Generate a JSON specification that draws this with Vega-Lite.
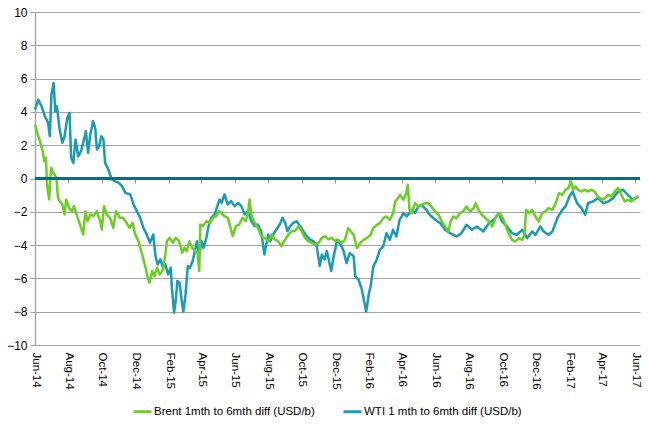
{
  "$schema": "https://vega.github.io/schema/vega-lite/v6.json",
  "width": 605,
  "height": 333,
  "autosize": {"type": "none"},
  "padding": {"left": 35, "top": 12, "right": 9, "bottom": 79},
  "background": "white",
  "config": {
    "view": {"stroke": null},
    "font": "Liberation Sans",
    "axisY": {
      "title": null, "values": [-10, -8, -6, -4, -2, 0, 2, 4, 6, 8, 10], "labelOverlap": false,
      "grid": true, "gridColor": "#a6a6a6", "gridWidth": 1,
      "domain": true, "domainColor": "#a6a6a6", "domainWidth": 1.5,
      "ticks": true, "tickColor": "#a6a6a6", "tickSize": 5,
      "labelPadding": 3, "labelFontSize": 12, "labelColor": "#000", "labelFont": "Liberation Sans"
    }
  },
  "data": {"values": [
    {"d":"2014-06-01","s":"W","v":4.14},{"d":"2014-06-07","s":"W","v":4.74},{"d":"2014-06-13","s":"W","v":4.34},{"d":"2014-06-19","s":"W","v":3.74},{"d":"2014-06-25","s":"W","v":3.34},{"d":"2014-06-28","s":"W","v":2.54},{"d":"2014-07-01","s":"W","v":5.04},{"d":"2014-07-05","s":"W","v":5.74},{"d":"2014-07-08","s":"W","v":4.04},{"d":"2014-07-11","s":"W","v":4.34},{"d":"2014-07-16","s":"W","v":2.94},{"d":"2014-07-21","s":"W","v":2.14},{"d":"2014-07-25","s":"W","v":2.54},{"d":"2014-07-30","s":"W","v":3.64},{"d":"2014-08-03","s":"W","v":3.94},{"d":"2014-08-06","s":"W","v":1.24},{"d":"2014-08-10","s":"W","v":0.94},{"d":"2014-08-14","s":"W","v":2.34},{"d":"2014-08-19","s":"W","v":1.34},{"d":"2014-08-24","s":"W","v":1.64},{"d":"2014-08-28","s":"W","v":2.14},{"d":"2014-09-02","s":"W","v":2.84},{"d":"2014-09-06","s":"W","v":1.54},{"d":"2014-09-10","s":"W","v":2.64},{"d":"2014-09-15","s":"W","v":3.44},{"d":"2014-09-19","s":"W","v":3.04},{"d":"2014-09-22","s":"W","v":1.74},{"d":"2014-09-26","s":"W","v":1.94},{"d":"2014-09-30","s":"W","v":2.54},{"d":"2014-10-04","s":"W","v":2.34},{"d":"2014-10-07","s":"W","v":0.94},{"d":"2014-10-13","s":"W","v":0.54},{"d":"2014-10-19","s":"W","v":-0.06},{"d":"2014-10-25","s":"W","v":-0.16},{"d":"2014-11-01","s":"W","v":-0.26},{"d":"2014-11-07","s":"W","v":-0.46},{"d":"2014-11-13","s":"W","v":-0.86},{"d":"2014-11-22","s":"W","v":-0.96},{"d":"2014-11-28","s":"W","v":-1.56},{"d":"2014-12-04","s":"W","v":-1.96},{"d":"2014-12-10","s":"W","v":-2.36},{"d":"2014-12-16","s":"W","v":-2.96},{"d":"2014-12-22","s":"W","v":-3.36},{"d":"2014-12-28","s":"W","v":-3.86},{"d":"2015-01-03","s":"W","v":-3.36},{"d":"2015-01-07","s":"W","v":-4.66},{"d":"2015-01-11","s":"W","v":-5.16},{"d":"2015-01-16","s":"W","v":-4.86},{"d":"2015-01-21","s":"W","v":-5.36},{"d":"2015-01-25","s":"W","v":-5.16},{"d":"2015-01-30","s":"W","v":-5.76},{"d":"2015-02-04","s":"W","v":-5.36},{"d":"2015-02-06","s":"W","v":-6.56},{"d":"2015-02-10","s":"W","v":-8.06},{"d":"2015-02-13","s":"W","v":-7.36},{"d":"2015-02-16","s":"W","v":-6.16},{"d":"2015-02-20","s":"W","v":-6.26},{"d":"2015-02-24","s":"W","v":-7.36},{"d":"2015-02-27","s":"W","v":-8.0},{"d":"2015-03-03","s":"W","v":-6.96},{"d":"2015-03-07","s":"W","v":-5.26},{"d":"2015-03-11","s":"W","v":-5.36},{"d":"2015-03-16","s":"W","v":-4.96},{"d":"2015-03-20","s":"W","v":-4.36},{"d":"2015-03-24","s":"W","v":-3.76},{"d":"2015-03-28","s":"W","v":-4.66},{"d":"2015-04-01","s":"W","v":-3.76},{"d":"2015-04-05","s":"W","v":-4.16},{"d":"2015-04-10","s":"W","v":-3.56},{"d":"2015-04-14","s":"W","v":-2.86},{"d":"2015-04-19","s":"W","v":-2.36},{"d":"2015-04-25","s":"W","v":-2.16},{"d":"2015-04-30","s":"W","v":-1.66},{"d":"2015-05-04","s":"W","v":-1.26},{"d":"2015-05-08","s":"W","v":-1.46},{"d":"2015-05-13","s":"W","v":-0.96},{"d":"2015-05-19","s":"W","v":-1.56},{"d":"2015-05-25","s":"W","v":-1.36},{"d":"2015-06-01","s":"W","v":-1.66},{"d":"2015-06-07","s":"W","v":-1.46},{"d":"2015-06-13","s":"W","v":-1.66},{"d":"2015-06-19","s":"W","v":-2.16},{"d":"2015-06-25","s":"W","v":-1.96},{"d":"2015-07-01","s":"W","v":-2.56},{"d":"2015-07-07","s":"W","v":-2.86},{"d":"2015-07-13","s":"W","v":-2.76},{"d":"2015-07-19","s":"W","v":-3.16},{"d":"2015-07-25","s":"W","v":-4.56},{"d":"2015-08-01","s":"W","v":-3.36},{"d":"2015-08-05","s":"W","v":-3.76},{"d":"2015-08-10","s":"W","v":-3.36},{"d":"2015-08-16","s":"W","v":-3.06},{"d":"2015-08-22","s":"W","v":-2.76},{"d":"2015-08-27","s":"W","v":-2.36},{"d":"2015-09-01","s":"W","v":-2.66},{"d":"2015-09-05","s":"W","v":-3.16},{"d":"2015-09-10","s":"W","v":-2.86},{"d":"2015-09-16","s":"W","v":-2.66},{"d":"2015-09-22","s":"W","v":-2.56},{"d":"2015-09-28","s":"W","v":-2.86},{"d":"2015-10-04","s":"W","v":-3.16},{"d":"2015-10-10","s":"W","v":-3.46},{"d":"2015-10-16","s":"W","v":-3.66},{"d":"2015-10-22","s":"W","v":-3.76},{"d":"2015-10-28","s":"W","v":-3.96},{"d":"2015-11-03","s":"W","v":-5.26},{"d":"2015-11-07","s":"W","v":-4.56},{"d":"2015-11-12","s":"W","v":-4.86},{"d":"2015-11-16","s":"W","v":-4.36},{"d":"2015-11-20","s":"W","v":-4.96},{"d":"2015-11-24","s":"W","v":-5.56},{"d":"2015-11-28","s":"W","v":-4.76},{"d":"2015-12-02","s":"W","v":-4.16},{"d":"2015-12-04","s":"W","v":-3.68},{"d":"2015-12-10","s":"W","v":-3.88},{"d":"2015-12-16","s":"W","v":-4.28},{"d":"2015-12-22","s":"W","v":-5.08},{"d":"2015-12-28","s":"W","v":-4.48},{"d":"2016-01-04","s":"W","v":-4.68},{"d":"2016-01-07","s":"W","v":-5.88},{"d":"2016-01-13","s":"W","v":-6.08},{"d":"2016-01-19","s":"W","v":-6.68},{"d":"2016-01-25","s":"W","v":-7.68},{"d":"2016-01-27","s":"W","v":-7.98},{"d":"2016-02-01","s":"W","v":-6.88},{"d":"2016-02-04","s":"W","v":-6.48},{"d":"2016-02-09","s":"W","v":-5.28},{"d":"2016-02-15","s":"W","v":-4.88},{"d":"2016-02-21","s":"W","v":-4.28},{"d":"2016-02-27","s":"W","v":-4.08},{"d":"2016-03-04","s":"W","v":-3.28},{"d":"2016-03-10","s":"W","v":-3.68},{"d":"2016-03-16","s":"W","v":-3.08},{"d":"2016-03-22","s":"W","v":-3.48},{"d":"2016-03-28","s":"W","v":-2.48},{"d":"2016-04-04","s":"W","v":-2.08},{"d":"2016-04-10","s":"W","v":-2.28},{"d":"2016-04-19","s":"W","v":-1.88},{"d":"2016-04-25","s":"W","v":-2.08},{"d":"2016-05-01","s":"W","v":-1.68},{"d":"2016-05-07","s":"W","v":-1.58},{"d":"2016-05-16","s":"W","v":-1.88},{"d":"2016-05-22","s":"W","v":-2.18},{"d":"2016-06-01","s":"W","v":-2.48},{"d":"2016-06-10","s":"W","v":-2.68},{"d":"2016-06-19","s":"W","v":-3.08},{"d":"2016-06-28","s":"W","v":-3.28},{"d":"2016-07-10","s":"W","v":-3.48},{"d":"2016-07-19","s":"W","v":-3.28},{"d":"2016-07-28","s":"W","v":-2.78},{"d":"2016-08-07","s":"W","v":-3.08},{"d":"2016-08-16","s":"W","v":-2.88},{"d":"2016-08-28","s":"W","v":-3.18},{"d":"2016-09-07","s":"W","v":-2.68},{"d":"2016-09-16","s":"W","v":-2.48},{"d":"2016-09-25","s":"W","v":-2.08},{"d":"2016-10-01","s":"W","v":-2.58},{"d":"2016-10-10","s":"W","v":-2.88},{"d":"2016-10-19","s":"W","v":-3.28},{"d":"2016-10-28","s":"W","v":-3.38},{"d":"2016-11-07","s":"W","v":-3.08},{"d":"2016-11-16","s":"W","v":-3.58},{"d":"2016-11-25","s":"W","v":-3.18},{"d":"2016-12-01","s":"W","v":-3.38},{"d":"2016-12-10","s":"W","v":-2.88},{"d":"2016-12-16","s":"W","v":-3.18},{"d":"2016-12-25","s":"W","v":-3.38},{"d":"2017-01-01","s":"W","v":-3.18},{"d":"2017-01-10","s":"W","v":-2.38},{"d":"2017-01-19","s":"W","v":-1.88},{"d":"2017-01-25","s":"W","v":-1.68},{"d":"2017-02-01","s":"W","v":-1.08},{"d":"2017-02-07","s":"W","v":-0.78},{"d":"2017-02-15","s":"W","v":-1.48},{"d":"2017-02-23","s":"W","v":-1.78},{"d":"2017-03-02","s":"W","v":-2.18},{"d":"2017-03-07","s":"W","v":-1.48},{"d":"2017-03-16","s":"W","v":-1.38},{"d":"2017-03-25","s":"W","v":-1.18},{"d":"2017-04-04","s":"W","v":-1.48},{"d":"2017-04-13","s":"W","v":-1.38},{"d":"2017-04-22","s":"W","v":-1.18},{"d":"2017-05-01","s":"W","v":-0.78},{"d":"2017-05-10","s":"W","v":-0.68},{"d":"2017-05-19","s":"W","v":-0.98},{"d":"2017-05-28","s":"W","v":-1.28},{"d":"2017-06-07","s":"W","v":-1.08},
    {"d":"2014-06-01","s":"B","v":3.24},{"d":"2014-06-05","s":"B","v":2.74},{"d":"2014-06-10","s":"B","v":2.24},{"d":"2014-06-15","s":"B","v":1.64},{"d":"2014-06-18","s":"B","v":1.04},{"d":"2014-06-21","s":"B","v":1.24},{"d":"2014-06-23","s":"B","v":-0.36},{"d":"2014-06-25","s":"B","v":-0.86},{"d":"2014-06-27","s":"B","v":-1.26},{"d":"2014-06-29","s":"B","v":0.04},{"d":"2014-07-01","s":"B","v":0.64},{"d":"2014-07-04","s":"B","v":0.34},{"d":"2014-07-07","s":"B","v":0.24},{"d":"2014-07-10","s":"B","v":0.04},{"d":"2014-07-13","s":"B","v":-1.16},{"d":"2014-07-16","s":"B","v":-1.36},{"d":"2014-07-21","s":"B","v":-1.56},{"d":"2014-07-25","s":"B","v":-2.16},{"d":"2014-07-28","s":"B","v":-1.26},{"d":"2014-08-02","s":"B","v":-1.76},{"d":"2014-08-07","s":"B","v":-1.96},{"d":"2014-08-11","s":"B","v":-1.66},{"d":"2014-08-16","s":"B","v":-2.16},{"d":"2014-08-22","s":"B","v":-2.76},{"d":"2014-08-28","s":"B","v":-3.36},{"d":"2014-09-01","s":"B","v":-1.96},{"d":"2014-09-05","s":"B","v":-2.56},{"d":"2014-09-10","s":"B","v":-2.16},{"d":"2014-09-16","s":"B","v":-2.26},{"d":"2014-09-22","s":"B","v":-1.96},{"d":"2014-09-28","s":"B","v":-2.56},{"d":"2014-10-01","s":"B","v":-3.06},{"d":"2014-10-05","s":"B","v":-1.66},{"d":"2014-10-10","s":"B","v":-2.16},{"d":"2014-10-16","s":"B","v":-2.36},{"d":"2014-10-22","s":"B","v":-2.96},{"d":"2014-10-27","s":"B","v":-1.96},{"d":"2014-11-03","s":"B","v":-2.36},{"d":"2014-11-09","s":"B","v":-2.36},{"d":"2014-11-15","s":"B","v":-2.66},{"d":"2014-11-21","s":"B","v":-2.96},{"d":"2014-11-26","s":"B","v":-2.66},{"d":"2014-12-01","s":"B","v":-3.36},{"d":"2014-12-07","s":"B","v":-3.76},{"d":"2014-12-12","s":"B","v":-4.36},{"d":"2014-12-16","s":"B","v":-4.86},{"d":"2014-12-20","s":"B","v":-5.36},{"d":"2014-12-24","s":"B","v":-5.96},{"d":"2014-12-27","s":"B","v":-6.26},{"d":"2015-01-01","s":"B","v":-5.56},{"d":"2015-01-05","s":"B","v":-5.86},{"d":"2015-01-10","s":"B","v":-5.36},{"d":"2015-01-15","s":"B","v":-5.76},{"d":"2015-01-21","s":"B","v":-5.46},{"d":"2015-01-25","s":"B","v":-4.56},{"d":"2015-01-28","s":"B","v":-3.76},{"d":"2015-02-02","s":"B","v":-3.56},{"d":"2015-02-08","s":"B","v":-3.86},{"d":"2015-02-13","s":"B","v":-3.56},{"d":"2015-02-19","s":"B","v":-3.76},{"d":"2015-02-25","s":"B","v":-4.46},{"d":"2015-03-01","s":"B","v":-4.16},{"d":"2015-03-05","s":"B","v":-4.36},{"d":"2015-03-10","s":"B","v":-3.76},{"d":"2015-03-15","s":"B","v":-4.16},{"d":"2015-03-21","s":"B","v":-4.36},{"d":"2015-03-25","s":"B","v":-4.5},{"d":"2015-03-28","s":"B","v":-5.56},{"d":"2015-03-30","s":"B","v":-2.76},{"d":"2015-04-04","s":"B","v":-2.86},{"d":"2015-04-10","s":"B","v":-2.56},{"d":"2015-04-16","s":"B","v":-2.66},{"d":"2015-04-22","s":"B","v":-2.36},{"d":"2015-04-28","s":"B","v":-2.26},{"d":"2015-05-03","s":"B","v":-1.96},{"d":"2015-05-07","s":"B","v":-2.06},{"d":"2015-05-13","s":"B","v":-2.26},{"d":"2015-05-19","s":"B","v":-2.36},{"d":"2015-05-25","s":"B","v":-3.06},{"d":"2015-05-28","s":"B","v":-3.46},{"d":"2015-06-03","s":"B","v":-2.86},{"d":"2015-06-09","s":"B","v":-2.76},{"d":"2015-06-15","s":"B","v":-2.36},{"d":"2015-06-21","s":"B","v":-2.56},{"d":"2015-06-25","s":"B","v":-2.06},{"d":"2015-06-28","s":"B","v":-1.26},{"d":"2015-07-01","s":"B","v":-2.16},{"d":"2015-07-07","s":"B","v":-2.66},{"d":"2015-07-13","s":"B","v":-2.96},{"d":"2015-07-19","s":"B","v":-3.46},{"d":"2015-07-25","s":"B","v":-3.56},{"d":"2015-08-01","s":"B","v":-3.76},{"d":"2015-08-07","s":"B","v":-3.36},{"d":"2015-08-13","s":"B","v":-3.66},{"d":"2015-08-19","s":"B","v":-3.76},{"d":"2015-08-25","s":"B","v":-4.06},{"d":"2015-09-01","s":"B","v":-3.66},{"d":"2015-09-07","s":"B","v":-3.36},{"d":"2015-09-13","s":"B","v":-3.16},{"d":"2015-09-19","s":"B","v":-3.16},{"d":"2015-09-25","s":"B","v":-2.86},{"d":"2015-10-01","s":"B","v":-3.16},{"d":"2015-10-07","s":"B","v":-3.56},{"d":"2015-10-13","s":"B","v":-3.76},{"d":"2015-10-19","s":"B","v":-3.86},{"d":"2015-10-25","s":"B","v":-3.96},{"d":"2015-11-01","s":"B","v":-3.86},{"d":"2015-11-07","s":"B","v":-3.56},{"d":"2015-11-13","s":"B","v":-3.46},{"d":"2015-11-19","s":"B","v":-3.66},{"d":"2015-11-25","s":"B","v":-3.56},{"d":"2015-12-01","s":"B","v":-3.76},{"d":"2015-12-07","s":"B","v":-3.68},{"d":"2015-12-13","s":"B","v":-3.88},{"d":"2015-12-19","s":"B","v":-3.68},{"d":"2015-12-25","s":"B","v":-2.98},{"d":"2015-12-30","s":"B","v":-3.18},{"d":"2016-01-04","s":"B","v":-3.38},{"d":"2016-01-10","s":"B","v":-4.18},{"d":"2016-01-16","s":"B","v":-3.88},{"d":"2016-01-22","s":"B","v":-3.68},{"d":"2016-01-28","s":"B","v":-3.58},{"d":"2016-02-04","s":"B","v":-3.38},{"d":"2016-02-09","s":"B","v":-2.98},{"d":"2016-02-15","s":"B","v":-2.78},{"d":"2016-02-21","s":"B","v":-2.68},{"d":"2016-02-27","s":"B","v":-2.38},{"d":"2016-03-04","s":"B","v":-2.28},{"d":"2016-03-10","s":"B","v":-2.48},{"d":"2016-03-16","s":"B","v":-2.08},{"d":"2016-03-20","s":"B","v":-1.38},{"d":"2016-03-25","s":"B","v":-1.18},{"d":"2016-03-29","s":"B","v":-0.98},{"d":"2016-04-04","s":"B","v":-1.28},{"d":"2016-04-09","s":"B","v":-0.88},{"d":"2016-04-12","s":"B","v":-0.38},{"d":"2016-04-15","s":"B","v":-1.88},{"d":"2016-04-19","s":"B","v":-2.08},{"d":"2016-04-25","s":"B","v":-1.48},{"d":"2016-05-01","s":"B","v":-1.68},{"d":"2016-05-07","s":"B","v":-1.58},{"d":"2016-05-13","s":"B","v":-1.48},{"d":"2016-05-19","s":"B","v":-1.48},{"d":"2016-05-25","s":"B","v":-1.68},{"d":"2016-06-01","s":"B","v":-1.98},{"d":"2016-06-07","s":"B","v":-2.18},{"d":"2016-06-13","s":"B","v":-2.58},{"d":"2016-06-19","s":"B","v":-2.88},{"d":"2016-06-25","s":"B","v":-3.18},{"d":"2016-06-29","s":"B","v":-2.58},{"d":"2016-07-04","s":"B","v":-2.28},{"d":"2016-07-10","s":"B","v":-2.38},{"d":"2016-07-16","s":"B","v":-2.08},{"d":"2016-07-22","s":"B","v":-1.98},{"d":"2016-07-28","s":"B","v":-1.68},{"d":"2016-08-04","s":"B","v":-1.98},{"d":"2016-08-10","s":"B","v":-1.78},{"d":"2016-08-14","s":"B","v":-1.48},{"d":"2016-08-19","s":"B","v":-1.88},{"d":"2016-08-25","s":"B","v":-2.18},{"d":"2016-09-01","s":"B","v":-2.38},{"d":"2016-09-07","s":"B","v":-2.58},{"d":"2016-09-13","s":"B","v":-2.88},{"d":"2016-09-19","s":"B","v":-2.38},{"d":"2016-09-25","s":"B","v":-2.08},{"d":"2016-10-01","s":"B","v":-2.28},{"d":"2016-10-07","s":"B","v":-2.78},{"d":"2016-10-13","s":"B","v":-3.28},{"d":"2016-10-19","s":"B","v":-3.68},{"d":"2016-10-25","s":"B","v":-3.78},{"d":"2016-11-01","s":"B","v":-3.58},{"d":"2016-11-07","s":"B","v":-3.68},{"d":"2016-11-11","s":"B","v":-3.38},{"d":"2016-11-14","s":"B","v":-1.88},{"d":"2016-11-19","s":"B","v":-2.08},{"d":"2016-11-25","s":"B","v":-1.88},{"d":"2016-12-01","s":"B","v":-2.28},{"d":"2016-12-07","s":"B","v":-2.58},{"d":"2016-12-13","s":"B","v":-2.08},{"d":"2016-12-19","s":"B","v":-1.98},{"d":"2016-12-25","s":"B","v":-1.78},{"d":"2017-01-01","s":"B","v":-1.88},{"d":"2017-01-07","s":"B","v":-1.48},{"d":"2017-01-13","s":"B","v":-0.88},{"d":"2017-01-19","s":"B","v":-0.98},{"d":"2017-01-25","s":"B","v":-0.68},{"d":"2017-01-30","s":"B","v":-0.58},{"d":"2017-02-04","s":"B","v":-0.18},{"d":"2017-02-08","s":"B","v":-0.68},{"d":"2017-02-12","s":"B","v":-0.48},{"d":"2017-02-17","s":"B","v":-0.68},{"d":"2017-02-23","s":"B","v":-0.78},{"d":"2017-03-01","s":"B","v":-0.68},{"d":"2017-03-07","s":"B","v":-0.78},{"d":"2017-03-13","s":"B","v":-0.68},{"d":"2017-03-19","s":"B","v":-0.78},{"d":"2017-03-25","s":"B","v":-1.08},{"d":"2017-04-01","s":"B","v":-1.28},{"d":"2017-04-07","s":"B","v":-1.18},{"d":"2017-04-13","s":"B","v":-0.98},{"d":"2017-04-19","s":"B","v":-1.08},{"d":"2017-04-25","s":"B","v":-0.78},{"d":"2017-05-01","s":"B","v":-0.58},{"d":"2017-05-07","s":"B","v":-0.98},{"d":"2017-05-13","s":"B","v":-1.38},{"d":"2017-05-19","s":"B","v":-1.28},{"d":"2017-05-25","s":"B","v":-1.38},{"d":"2017-06-01","s":"B","v":-1.18},{"d":"2017-06-07","s":"B","v":-1.08}
  ]},
  "layer": [
    {
      "mark": {"type": "line", "strokeWidth": 2.5, "strokeJoin": "round"},
      "encoding": {
        "x": {
          "field": "d", "type": "temporal",
          "scale": {"type": "utc", "domain": [{"year": 2014, "month": 6, "date": 1, "utc": true}, {"year": 2017, "month": 6, "date": 10, "utc": true}]},
          "axis": {
            "title": null, "orient": "bottom", "domain": false, "ticks": false, "grid": false,
            "format": "%b-%y", "labelAngle": 90, "labelAlign": "left", "labelBaseline": "middle",
            "labelPadding": 7, "labelFontSize": 11.5, "labelColor": "#000", "labelFont": "Liberation Sans", "labelOverlap": false,
            "values": [
              {"year": 2014, "month": 6, "date": 1, "utc": true}, {"year": 2014, "month": 8, "date": 1, "utc": true}, {"year": 2014, "month": 10, "date": 1, "utc": true}, {"year": 2014, "month": 12, "date": 1, "utc": true},
              {"year": 2015, "month": 2, "date": 1, "utc": true}, {"year": 2015, "month": 4, "date": 1, "utc": true}, {"year": 2015, "month": 6, "date": 1, "utc": true}, {"year": 2015, "month": 8, "date": 1, "utc": true}, {"year": 2015, "month": 10, "date": 1, "utc": true}, {"year": 2015, "month": 12, "date": 1, "utc": true},
              {"year": 2016, "month": 2, "date": 1, "utc": true}, {"year": 2016, "month": 4, "date": 1, "utc": true}, {"year": 2016, "month": 6, "date": 1, "utc": true}, {"year": 2016, "month": 8, "date": 1, "utc": true}, {"year": 2016, "month": 10, "date": 1, "utc": true}, {"year": 2016, "month": 12, "date": 1, "utc": true},
              {"year": 2017, "month": 2, "date": 1, "utc": true}, {"year": 2017, "month": 4, "date": 1, "utc": true}, {"year": 2017, "month": 6, "date": 1, "utc": true}
            ]
          }
        },
        "y": {
          "field": "v", "type": "quantitative",
          "scale": {"domain": [-10, 10], "nice": false}
        },
        "color": {
          "field": "s", "type": "nominal",
          "scale": {"domain": ["B", "W"], "range": ["#6ACF22", "#1A9BB5"]},
          "legend": {
            "orient": "none", "legendX": 97, "legendY": 389, "direction": "horizontal", "title": null,
            "symbolType": "stroke", "symbolSize": 324, "symbolStrokeWidth": 3,
            "labelFontSize": 11.5, "labelFont": "Liberation Sans", "labelColor": "#000", "labelLimit": 300,
            "labelOffset": 1, "columnPadding": 22,
            "labelExpr": "datum.label == 'B' ? 'Brent 1mth to 6mth diff (USD/b)' : 'WTI 1 mth to 6mth diff (USD/b)'"
          }
        }
      }
    },
    {
      "mark": {"type": "rule", "color": "#0D6B7F", "strokeWidth": 3},
      "encoding": {
        "x": {
          "field": "d", "aggregate": "min", "type": "temporal",
          "scale": {"type": "utc", "domain": [{"year": 2014, "month": 6, "date": 1, "utc": true}, {"year": 2017, "month": 6, "date": 10, "utc": true}]},
          "axis": {
            "title": null, "orient": "top", "offset": -171, "labels": false, "domain": false, "grid": false,
            "ticks": true, "tickSize": 4.5, "tickColor": "#9a9a9a", "tickWidth": 1,
            "values": [
              {"year": 2014, "month": 8, "date": 1, "utc": true}, {"year": 2014, "month": 10, "date": 1, "utc": true}, {"year": 2014, "month": 12, "date": 1, "utc": true},
              {"year": 2015, "month": 2, "date": 1, "utc": true}, {"year": 2015, "month": 4, "date": 1, "utc": true}, {"year": 2015, "month": 6, "date": 1, "utc": true}, {"year": 2015, "month": 8, "date": 1, "utc": true}, {"year": 2015, "month": 10, "date": 1, "utc": true}, {"year": 2015, "month": 12, "date": 1, "utc": true},
              {"year": 2016, "month": 2, "date": 1, "utc": true}, {"year": 2016, "month": 4, "date": 1, "utc": true}, {"year": 2016, "month": 6, "date": 1, "utc": true}, {"year": 2016, "month": 8, "date": 1, "utc": true}, {"year": 2016, "month": 10, "date": 1, "utc": true}, {"year": 2016, "month": 12, "date": 1, "utc": true},
              {"year": 2017, "month": 2, "date": 1, "utc": true}, {"year": 2017, "month": 4, "date": 1, "utc": true}, {"year": 2017, "month": 6, "date": 1, "utc": true}
            ]
          }
        },
        "x2": {"datum": {"year": 2017, "month": 6, "date": 10, "utc": true}},
        "y": {"datum": 0, "type": "quantitative"}
      }
    }
  ],
  "resolve": {"scale": {"x": "independent"}, "axis": {"x": "independent"}}
}
